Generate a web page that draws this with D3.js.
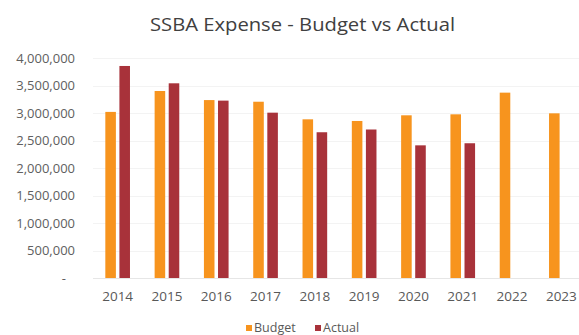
<!DOCTYPE html>
<html>
<head>
<meta charset="utf-8">
<script src="https://cdn.jsdelivr.net/npm/d3@7"></script>
<style>
  html, body { margin: 0; padding: 0; background: #ffffff; overflow: hidden; }
  svg { display: block; }
  text { font-family: "Open Sans", "Liberation Sans", sans-serif; }
</style>
</head>
<body>
<svg id="chart" width="579" height="335"></svg>
<script>
// Fiscal years on the category axis
const years = ["2014", "2015", "2016", "2017", "2018", "2019", "2020", "2021", "2022", "2023"];
// Budgeted SSBA expense per year
const budget = [3020000, 3400000, 3235000, 3205000, 2885000, 2855000, 2958000, 2976000, 3370000, 2994000];
// Actual SSBA expense per year (no actuals yet for 2022 and 2023)
const actual = [3855000, 3540000, 3225000, 3006000, 2650000, 2700000, 2412000, 2450000, null, null];
// Value axis ticks
const yTicks = [0, 500000, 1000000, 1500000, 2000000, 2500000, 3000000, 3500000, 4000000];
const seriesNames = ["Budget", "Actual"];

const colors = { Budget: "#F7941E", Actual: "#A8323A" };

const svg = d3.select("#chart");

const x0 = d3.scaleBand().domain(years).range([93, 586]).paddingInner(0.5).paddingOuter(0.25);
const x1 = d3.scaleBand().domain(seriesNames).range([0, x0.bandwidth()]).paddingInner(0.25);
const y = d3.scaleLinear().domain([0, 4000000]).range([278, 58]);

// Gridlines
svg.append("g")
  .selectAll("line")
  .data(yTicks)
  .join("line")
  .attr("x1", 93).attr("x2", 579)
  .attr("y1", d => Math.round(y(d)) + 0.5)
  .attr("y2", d => Math.round(y(d)) + 0.5)
  .attr("stroke", d => d === 0 ? "#e6e6e6" : "#f3f3f3")
  .attr("stroke-width", 1);

// Value axis labels (accounting style: zero shown as a dash)
const fmt = d3.format(",");
const yAxis = d3.axisLeft(y).tickValues(yTicks).tickSize(0).tickPadding(0)
  .tickFormat(d => d === 0 ? "-" : fmt(d));
svg.append("g")
  .attr("transform", "translate(75,0)")
  .call(yAxis)
  .call(g => g.select(".domain").remove())
  .call(g => g.selectAll("text")
    .attr("fill", "#606060")
    .attr("font-size", "13px")
    .attr("dx", d => d === 0 ? "-9px" : "0")
    .attr("font-family", "'Open Sans', 'Liberation Sans', sans-serif"));

// Category axis labels
const xAxis = d3.axisBottom(x0).tickSize(0).tickPadding(0);
svg.append("g")
  .attr("transform", "translate(0,291)")
  .call(xAxis)
  .call(g => g.select(".domain").remove())
  .call(g => g.selectAll("text")
    .attr("fill", "#595959")
    .attr("font-size", "13.5px")
    .attr("font-family", "'Open Sans', 'Liberation Sans', sans-serif"));

// Bars
const rows = years.map((yr, i) => ({ year: yr, values: [
  { key: "Budget", value: budget[i] },
  { key: "Actual", value: actual[i] }
].filter(v => v.value != null) }));

svg.append("g")
  .selectAll("g")
  .data(rows)
  .join("g")
  .attr("transform", d => `translate(${x0(d.year)},0)`)
  .selectAll("rect")
  .data(d => d.values)
  .join("rect")
  .attr("x", d => x1(d.key))
  .attr("width", x1.bandwidth())
  .attr("y", d => y(d.value))
  .attr("height", d => y(0) - y(d.value))
  .attr("fill", d => colors[d.key]);

// Title
svg.append("text")
  .attr("x", 302.5)
  .attr("y", 31)
  .attr("text-anchor", "middle")
  .attr("font-size", "19px")
  .attr("fill", "#404040")
  .attr("textLength", 305)
  .attr("lengthAdjust", "spacingAndGlyphs")
  .text("SSBA Expense - Budget vs Actual");

// Legend
const legendItems = [
  { key: "Budget", x: 246 },
  { key: "Actual", x: 315 }
];
const legend = svg.append("g");
legend.selectAll("rect")
  .data(legendItems)
  .join("rect")
  .attr("x", d => d.x)
  .attr("y", 325)
  .attr("width", 6)
  .attr("height", 6)
  .attr("fill", d => colors[d.key]);
legend.selectAll("text")
  .data(legendItems)
  .join("text")
  .attr("x", d => d.x + 8)
  .attr("y", 332)
  .attr("font-size", "12.5px")
  .attr("fill", "#595959")
  .text(d => d.key);
</script>
</body>
</html>
